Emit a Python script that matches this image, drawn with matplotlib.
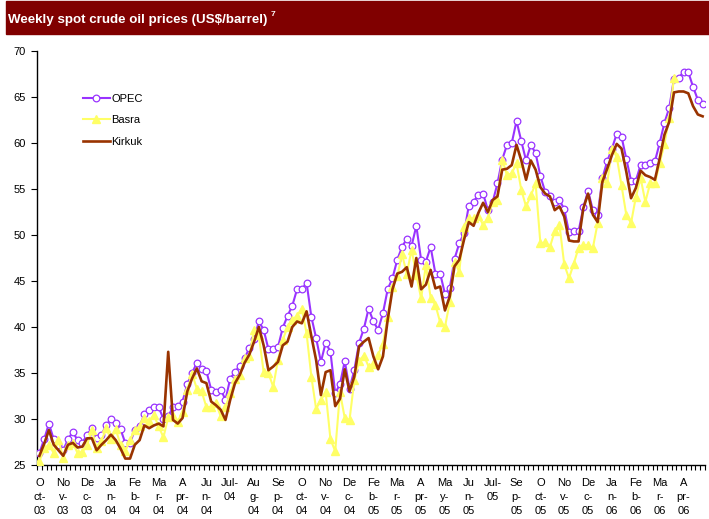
import numpy as np
import matplotlib
matplotlib.use("Agg")
import matplotlib.pyplot as plt
from matplotlib.patches import Rectangle
from matplotlib.ticker import FixedLocator

plt.rcParams['font.family'] = ['Liberation Sans', 'DejaVu Sans']

# Weekly series (Oct-03 .. Apr-06)
opec = [26.3, 27.8, 29.5, 27.8, 27.2, 26.6, 27.8, 28.6, 27.7, 27.4,
        28.3, 29.0, 27.9, 28.3, 29.3, 30.0, 29.6, 28.9, 27.4, 27.4,
        28.8, 29.2, 30.5, 31.0, 31.3, 31.3, 30.0, 30.3, 31.3, 31.4,
        31.9, 33.8, 35.0, 36.1, 35.4, 35.2, 33.2, 32.9, 33.2, 32.1,
        34.4, 35.1, 35.8, 36.6, 37.7, 38.7, 40.6, 39.7, 37.6, 37.6,
        37.8, 39.9, 41.2, 42.3, 44.1, 44.1, 44.8, 41.1, 38.8, 36.2,
        38.3, 37.3, 32.8, 33.8, 36.3, 33.3, 35.3, 38.3, 39.8, 42.0,
        40.6, 39.7, 41.5, 44.1, 45.3, 47.3, 48.7, 49.6, 48.8, 51.0,
        47.3, 47.1, 48.7, 45.8, 45.8, 43.6, 44.2, 47.4, 49.1, 50.2,
        53.2, 53.6, 54.4, 54.5, 52.7, 53.6, 55.6, 58.2, 59.8, 60.0,
        62.4, 60.2, 58.1, 59.8, 58.9, 56.4, 54.7, 54.2, 53.6, 53.8,
        52.8, 50.3, 50.4, 50.4, 53.0, 54.8, 52.7, 52.2, 56.2, 58.0,
        59.4, 61.0, 60.7, 58.3, 55.9, 55.9, 57.6, 57.6, 57.8, 58.0,
        60.0, 62.2, 63.8, 67.0, 67.1, 67.7, 67.7, 66.1, 64.7, 64.2]

basra = [25.4, 26.8, 27.2, 26.3, 27.7, 25.8, 27.2, 27.4, 26.3, 26.4,
         27.2, 28.8, 26.8, 27.6, 29.0, 27.8, 28.9, 27.2, 26.5, 27.7,
         28.8, 29.2, 30.1, 29.8, 30.4, 29.2, 28.0, 30.2, 30.3, 29.7,
         30.8, 33.2, 34.9, 33.3, 33.0, 31.3, 31.3, 31.7, 30.3, 31.3,
         32.8, 34.3, 34.8, 36.6, 36.8, 39.7, 39.1, 35.1, 35.0, 33.5,
         36.4, 38.6, 40.0, 40.8, 41.2, 42.0, 39.3, 34.6, 31.1, 32.1,
         32.9, 27.8, 26.5, 32.9, 30.1, 29.9, 34.2, 36.3, 36.9, 35.7,
         36.0, 37.0, 38.2, 41.1, 44.3, 45.5, 47.9, 45.8, 48.4, 45.7,
         43.1, 46.7, 43.2, 42.4, 40.5, 40.0, 42.7, 47.1, 46.0, 50.9,
         51.8, 51.8, 52.1, 51.1, 51.8, 53.6, 53.8, 58.2, 56.5, 56.7,
         57.8, 54.9, 53.1, 54.3, 55.6, 49.1, 49.2, 48.7, 50.4, 51.1,
         46.8, 45.3, 46.9, 48.6, 48.9, 48.9, 48.6, 51.3, 56.2, 55.6,
         59.4, 58.5, 55.4, 52.2, 51.3, 54.1, 56.2, 53.6, 55.6, 55.6,
         57.8, 59.9, 62.7, 67.1]

kirkuk = [26.0, 27.3, 28.8, 27.2, 26.6, 26.0, 27.2, 27.4, 26.9, 27.0,
          27.9, 27.9, 26.6, 27.2, 27.7, 28.3, 27.7, 26.8, 25.7, 25.7,
          27.2, 27.7, 29.3, 29.0, 29.3, 29.5, 29.2, 37.3, 29.9, 29.5,
          30.1, 33.0, 34.4, 35.5, 34.1, 33.9, 31.9, 31.5, 31.0, 29.9,
          32.1, 33.9, 34.8, 36.1, 37.0, 38.4, 40.0, 38.0, 35.3, 35.7,
          36.2, 38.0, 38.4, 40.0, 40.6, 40.4, 41.7, 39.0, 36.4, 32.6,
          35.1, 35.3, 31.4, 32.2, 35.4, 33.0, 34.6, 37.9, 38.4, 38.8,
          36.8, 35.4, 36.8, 40.8, 44.1, 45.8, 46.0, 46.5, 44.4, 47.5,
          44.1, 44.6, 46.2, 44.2, 44.4, 41.8, 43.3, 46.6, 47.3, 49.5,
          51.4, 51.0, 52.4, 53.5, 52.5, 53.8, 54.2, 57.1, 57.2, 57.6,
          59.8, 58.1, 56.0, 58.1, 57.1, 55.2, 54.5, 54.2, 52.7, 53.1,
          52.0, 49.4, 49.3, 49.3, 52.9, 54.5, 52.2, 51.4, 55.8, 57.2,
          58.7, 59.9, 59.4, 56.9, 54.0, 55.1, 57.0, 56.5, 56.3, 56.0,
          58.3, 60.9, 62.3, 65.5, 65.6, 65.6, 65.4, 64.0, 63.1, 62.9]

tick_labels = ["O\nct-\n03", "No\nv-\n03", "De\nc-\n03", "Ja\nn-\n04", "Fe\nb-\n04",
               "Ma\nr-\n04", "A\npr-\n04", "Ju\nn-\n04", "Jul-\n04", "Au\ng-\n04",
               "Se\np-\n04", "O\nct-\n04", "No\nv-\n04", "De\nc-\n04", "Fe\nb-\n05",
               "Ma\nr-\n05", "A\npr-\n05", "Ma\ny-\n05", "Ju\nn-\n05", "Jul-\n05",
               "Se\np-\n05", "O\nct-\n05", "No\nv-\n05", "De\nc-\n05", "Ja\nn-\n06",
               "Fe\nb-\n06", "Ma\nr-\n06", "A\npr-\n06"]
label_step = 5

W, H = 709, 519
fig = plt.figure(figsize=(W / 100, H / 100), dpi=100)

# title band
fig.patches.append(Rectangle((6 / W, 1 - 34 / H), 703 / W, 33 / H,
                             transform=fig.transFigure, color='#800000', zorder=0))
fig.text(8 / W, 1 - 20 / H, "Weekly spot crude oil prices (US$/barrel)",
         color='white', fontsize=9.6, fontweight='bold', va='center', ha='left')
fig.text(271 / W, 1 - 14 / H, "7", color='white', fontsize=6, fontweight='bold',
         va='center', ha='left')

ax = fig.add_axes([37 / W, 1 - 465 / H, 668 / W, 414 / H])
x = np.arange(len(opec))

ax.plot(x, opec, color='#9933FF', lw=1.5, marker='o', ms=4.8, mfc='white',
        mec='#9933FF', mew=0.9, label='OPEC', zorder=3)
ax.plot(x[:len(basra)], basra, color='#FFFF66', lw=1.5, marker='^', ms=5.5,
        mfc='#FFFF66', mec='#FFFF66', label='Basra', zorder=4)
ax.plot(x, kirkuk, color='#993300', lw=1.9, label='Kirkuk', zorder=5)

ax.set_xlim(-0.5, len(opec) - 0.5)
ax.set_ylim(25, 70)
ax.set_yticks(np.arange(25, 71, 5))
ax.set_xticks(x[::label_step][:len(tick_labels)])
ax.set_xticklabels(tick_labels, fontsize=8, linespacing=1.55)
ax.xaxis.set_minor_locator(FixedLocator(np.arange(-0.5, len(opec), 1)))
ax.tick_params(axis='x', which='major', length=0, pad=9)
ax.tick_params(axis='x', which='minor', length=3.5, width=0.8, direction='out')
ax.tick_params(axis='y', which='major', length=4, width=0.8, labelsize=8, pad=4)

for s in ['top', 'right']:
    ax.spines[s].set_visible(False)
for s in ['left', 'bottom']:
    ax.spines[s].set_linewidth(1.0)

leg = ax.legend(loc='upper left', bbox_to_anchor=(83 / W, 1 - 94 / H),
                bbox_transform=fig.transFigure, frameon=False, fontsize=8,
                borderpad=0, borderaxespad=0, handlelength=2.4,
                handletextpad=0.15, labelspacing=1.02)

fig.savefig('out.png', dpi=100)
